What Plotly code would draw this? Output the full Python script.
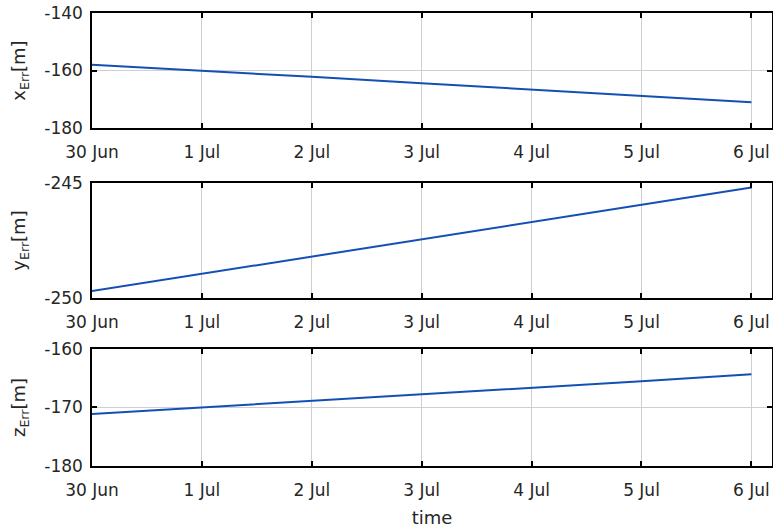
import plotly.graph_objects as go

dates = ["2020-06-30", "2020-07-01", "2020-07-02", "2020-07-03",
         "2020-07-04", "2020-07-05", "2020-07-06"]
tick_labels = ["30 Jun", "1 Jul", "2 Jul", "3 Jul", "4 Jul", "5 Jul", "6 Jul"]
x_err = [-158.0, -160.0, -162.2, -164.4, -166.6, -168.8, -171.0]
y_err = [-249.7, -248.95, -248.2, -247.45, -246.7, -245.95, -245.2]
z_err = [-171.1, -170.0, -168.9, -167.8, -166.7, -165.5, -164.3]

y_titles = ["x<sub>Err</sub>[m]", "y<sub>Err</sub>[m]", "z<sub>Err</sub>[m]"]
y_ranges = [[-180, -140], [-250, -245], [-180, -160]]
y_tickvals = [[-180, -160, -140], [-250, -245], [-180, -170, -160]]
y_ticktext = [["-180", "-160", "-140"], ["-250", "-245"], ["-180", "-170", "-160"]]
series = [x_err, y_err, z_err]
domains = [[0.7461, 1.0], [0.3709, 0.6247], [0.0, 0.2583]]

FONT = "DejaVu Sans, sans-serif"
LINE = "#1450b4"
TXT = "#262626"

fig = go.Figure()
layout = dict(
    width=773, height=530,
    margin=dict(l=92, r=1, t=13, b=64),
    paper_bgcolor="white", plot_bgcolor="white",
    showlegend=False,
    font=dict(family=FONT, size=16, color=TXT),
)

for i in range(3):
    n = "" if i == 0 else str(i + 1)
    fig.add_trace(go.Scatter(
        x=dates, y=series[i], mode="lines",
        line=dict(color=LINE, width=2),
        xaxis="x" + n, yaxis="y" + n,
    ))
    common = dict(
        showline=True, linecolor="black", linewidth=1.5, mirror="allticks",
        ticks="inside", ticklen=5, tickcolor="black", tickwidth=1.5,
        showgrid=True, gridcolor="#cfcfcf", gridwidth=1,
        zeroline=False, automargin=False,
        tickfont=dict(family=FONT, size=17, color=TXT),
    )
    layout["xaxis" + n] = dict(
        common, type="date", anchor="y" + n,
        range=["2020-06-30", "2020-07-06 04:30"],
        tickvals=dates, ticktext=tick_labels,
        domain=[0, 1], ticklabelstandoff=8,
    )
    if i == 2:
        layout["xaxis" + n]["title"] = dict(text="time", font=dict(size=18), standoff=12)
    layout["yaxis" + n] = dict(
        common, anchor="x" + n, domain=domains[i],
        range=y_ranges[i], tickvals=y_tickvals[i], ticktext=y_ticktext[i],
        ticklabelstandoff=4,
        title=dict(text=y_titles[i], font=dict(size=18), standoff=14),
    )

fig.update_layout(**layout)
fig.write_html("out.html",
               config={"displayModeBar": False},
               post_script="document.body.style.margin='0';document.body.style.overflow='hidden';")
